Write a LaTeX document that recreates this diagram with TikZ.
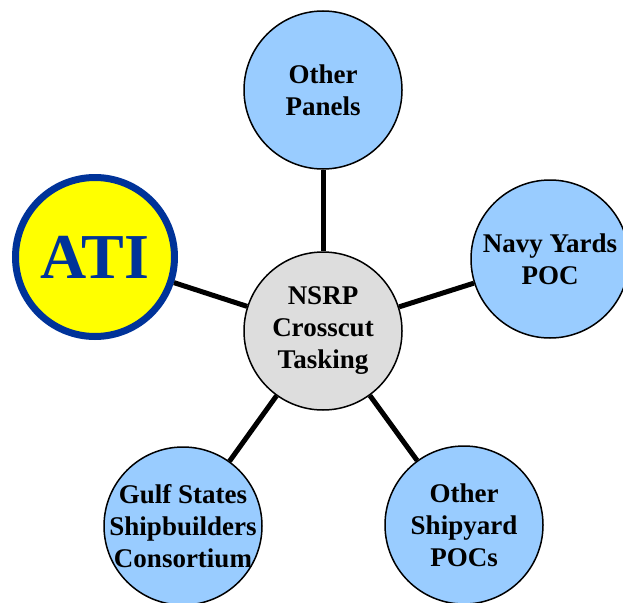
\documentclass[tikz,border=0pt]{standalone}
\usepackage{fontspec}
\setmainfont{Liberation Serif}

\definecolor{panelblue}{HTML}{99CCFF}
\definecolor{hubgray}{HTML}{DDDDDD}
\definecolor{atiblue}{HTML}{003399}
\definecolor{atiyellow}{HTML}{FFFF00}

\begin{document}
\begin{tikzpicture}[x=1pt,y=-1pt,
	bubble/.style={circle, draw, line width=1.5pt, fill=panelblue, minimum size=158pt, inner sep=-6pt, align=center, font=\fontsize{27}{32}\selectfont\bfseries},
	link/.style={line width=5pt}]

	\useasboundingbox (0,0) rectangle (623,602);

	\node (N)[bubble, fill=hubgray] at (323,331) {NSRP\\Crosscut\\Tasking};

	\node (P)[bubble] at (323,90) {Other\\Panels};
	\node (Y)[bubble] at (550,259) {Navy Yards\\POC};
	\node (S)[bubble] at (464,525) {Other\\Shipyard\\POCs};
	\node (G)[bubble] at (183,526) {Gulf States\\Shipbuilders\\Consortium};

	\node (A)[circle, draw=atiblue, line width=7pt, fill=atiyellow, minimum size=159pt, text=atiblue, font=\fontsize{64}{70}\selectfont\bfseries] at (95,257) {ATI};

	\draw [link] (N) to (P);
	\draw [link] (N) to (Y);
	\draw [link] (N) to (S);
	\draw [link] (N) to (G);
	\draw [link] (N) to (A);

\end{tikzpicture}
\end{document}
